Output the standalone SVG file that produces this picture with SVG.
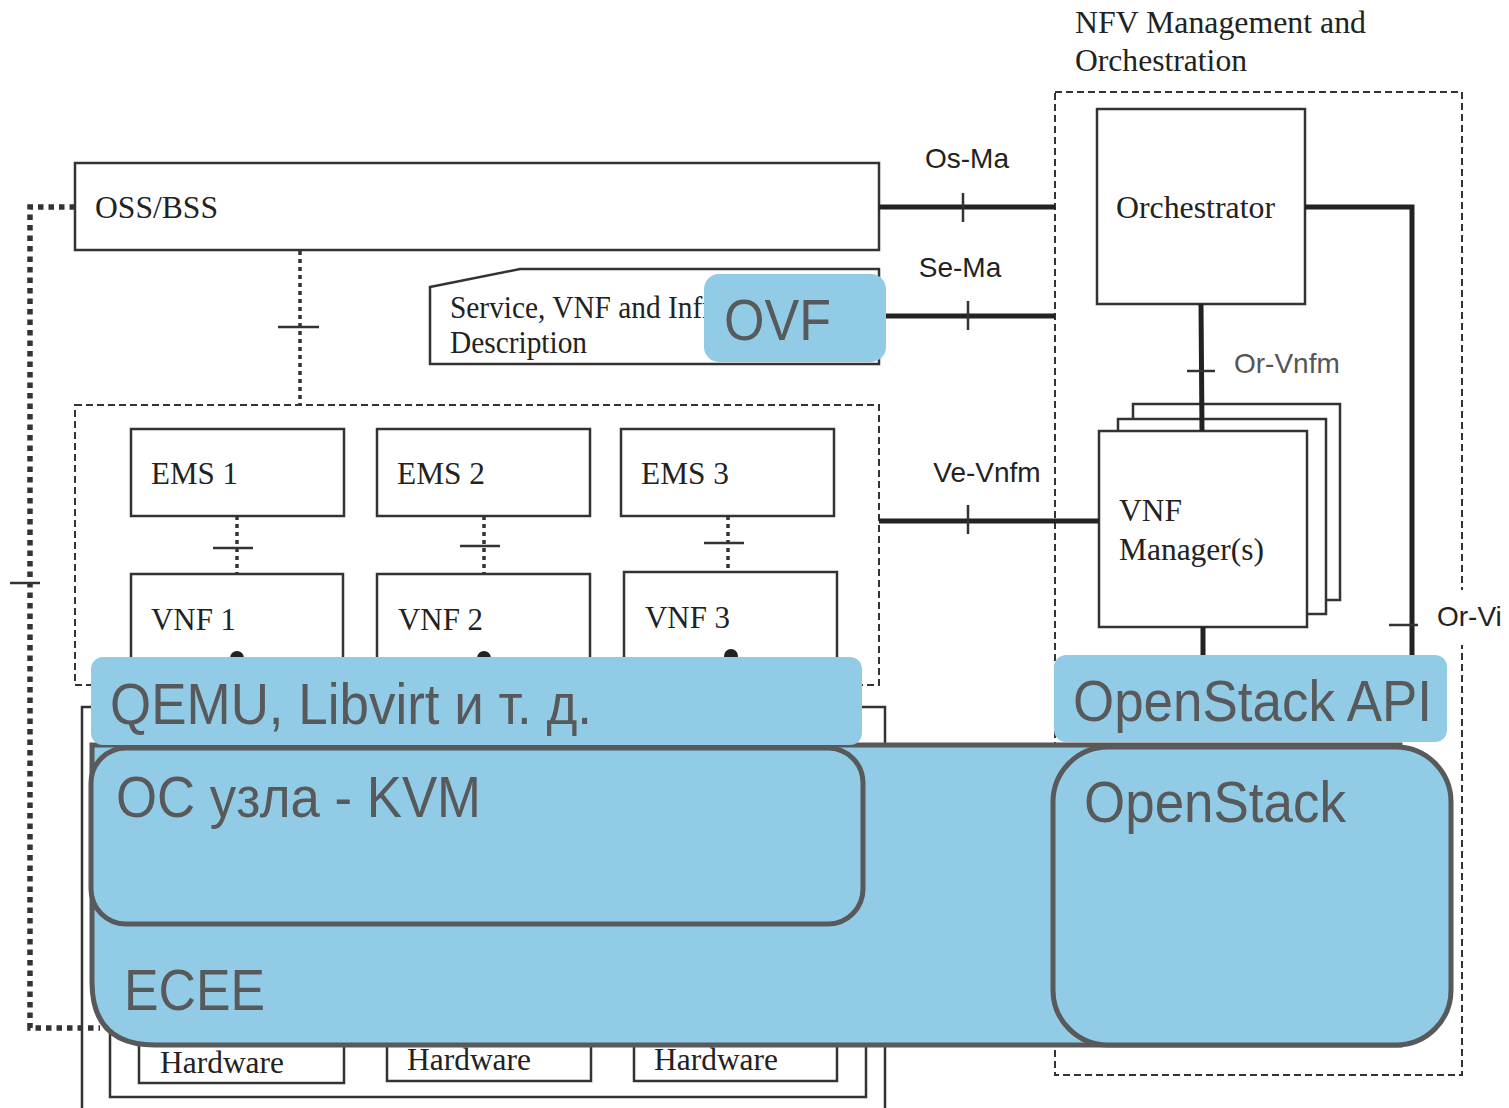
<svg xmlns="http://www.w3.org/2000/svg" width="1509" height="1108" viewBox="0 0 1509 1108">
<style>
.box{fill:#fff;stroke:#333;stroke-width:2.5}
.plain{fill:none;stroke:#333;stroke-width:2.5}
.dash{fill:none;stroke:#333;stroke-width:2;stroke-dasharray:7 4}
.thick{fill:none;stroke:#222;stroke-width:5}
.tick{fill:none;stroke:#333;stroke-width:2.5}
.dot{fill:none;stroke:#333;stroke-width:3.5;stroke-dasharray:4 4}
.bigdot{fill:none;stroke:#333;stroke-width:5.5;stroke-dasharray:5.5 5}
.serif{font-family:"Liberation Serif","Times New Roman",serif;font-size:31px;fill:#222}
.lab{font-family:"Liberation Sans",Arial,sans-serif;font-size:28px;fill:#222}
.lab2{font-family:"Liberation Sans",Arial,sans-serif;font-size:28px;fill:#555}
.blue{fill:#92cbe5}
.blueS{fill:#92cbe5;stroke:#58595b;stroke-width:5}
.big{font-family:"Liberation Sans",Arial,sans-serif;font-size:57px;fill:#58595b}
</style>

<g id="nfvi">
  <polyline class="plain" points="82,1108 82,707 885,707 885,1108"/>
  <rect class="plain" x="110" y="960" width="756" height="137"/>
</g>
<g id="hw1"><rect class="box" x="139" y="1030" width="205" height="53"/><text class="serif" x="160" y="1073" textLength="124" lengthAdjust="spacingAndGlyphs">Hardware</text></g>
<g id="hw2"><rect class="box" x="387" y="1030" width="204" height="51"/><text class="serif" x="407" y="1070" textLength="124" lengthAdjust="spacingAndGlyphs">Hardware</text></g>
<g id="hw3"><rect class="box" x="634" y="1030" width="203" height="51"/><text class="serif" x="654" y="1070" textLength="124" lengthAdjust="spacingAndGlyphs">Hardware</text></g>

<g id="vnf-domain"><rect class="dash" x="75" y="405" width="804" height="280"/></g>

<g id="ems1"><rect class="box" x="131" y="429" width="213" height="87"/><text class="serif" x="151" y="484" textLength="87" lengthAdjust="spacingAndGlyphs">EMS 1</text></g>
<g id="ems2"><rect class="box" x="377" y="429" width="213" height="87"/><text class="serif" x="397" y="484" textLength="88" lengthAdjust="spacingAndGlyphs">EMS 2</text></g>
<g id="ems3"><rect class="box" x="621" y="429" width="213" height="87"/><text class="serif" x="641" y="484" textLength="88" lengthAdjust="spacingAndGlyphs">EMS 3</text></g>

<g id="vnf1"><rect class="box" x="131" y="574" width="212" height="120"/><text class="serif" x="151" y="630" textLength="85" lengthAdjust="spacingAndGlyphs">VNF 1</text><circle cx="237" cy="658" r="7" fill="#222"/></g>
<g id="vnf2"><rect class="box" x="377" y="574" width="213" height="120"/><text class="serif" x="398" y="630" textLength="85" lengthAdjust="spacingAndGlyphs">VNF 2</text><circle cx="484" cy="658" r="7" fill="#222"/></g>
<g id="vnf3"><rect class="box" x="624" y="572" width="213" height="120"/><text class="serif" x="645" y="628" textLength="85" lengthAdjust="spacingAndGlyphs">VNF 3</text><circle cx="731" cy="656" r="7" fill="#222"/></g>

<g id="oss-bss"><rect class="box" x="75" y="163" width="804" height="87"/><text class="serif" x="95" y="218" textLength="123" lengthAdjust="spacingAndGlyphs">OSS/BSS</text></g>

<g id="service-description">
  <polygon class="box" points="430,287 520,269 879,269 879,364 430,364"/>
  <text class="serif" x="450" y="318" textLength="262" lengthAdjust="spacingAndGlyphs">Service, VNF and Infr</text>
  <text class="serif" x="450" y="353" textLength="137" lengthAdjust="spacingAndGlyphs">Description</text>
</g>

<g id="mano">
  <text class="serif" x="1075" y="33" textLength="291" lengthAdjust="spacingAndGlyphs">NFV Management and</text>
  <text class="serif" x="1075" y="71" textLength="172" lengthAdjust="spacingAndGlyphs">Orchestration</text>
  <rect class="dash" x="1055" y="92" width="407" height="983"/>
</g>

<g id="orchestrator"><rect class="box" x="1097" y="109" width="208" height="195"/><text class="serif" x="1116" y="218" textLength="159" lengthAdjust="spacingAndGlyphs">Orchestrator</text></g>

<g id="vnf-manager">
  <rect class="box" x="1133" y="404" width="207" height="196"/>
  <rect class="box" x="1118" y="419" width="208" height="195"/>
  <rect class="box" x="1099" y="431" width="208" height="196"/>
  <text class="serif" x="1119" y="521" textLength="63" lengthAdjust="spacingAndGlyphs">VNF</text>
  <text class="serif" x="1119" y="560" textLength="145" lengthAdjust="spacingAndGlyphs">Manager(s)</text>
</g>

<g id="connectors">
  <line class="thick" x1="879" y1="207" x2="1055" y2="207"/>
  <line class="tick" x1="963" y1="193" x2="963" y2="222"/>
  <text class="lab" x="967" y="168" text-anchor="middle">Os-Ma</text>
  <line class="thick" x1="880" y1="316" x2="1055" y2="316"/>
  <line class="tick" x1="968" y1="301" x2="968" y2="330"/>
  <text class="lab" x="960" y="277" text-anchor="middle">Se-Ma</text>
  <line class="thick" x1="879" y1="521" x2="1099" y2="521"/>
  <line class="tick" x1="968" y1="505" x2="968" y2="534"/>
  <text class="lab" x="987" y="482" text-anchor="middle">Ve-Vnfm</text>
  <line class="thick" x1="1201" y1="304" x2="1202" y2="431"/>
  <line class="tick" x1="1187" y1="371" x2="1215" y2="371"/>
  <text class="lab2" x="1234" y="373">Or-Vnfm</text>
  <polyline class="thick" points="1305,207 1412,207 1412,660"/>
  <line class="tick" x1="1389" y1="625" x2="1418" y2="625"/>
  <rect x="1430" y="590" width="79" height="55" fill="#fff"/>
  <text class="lab" x="1437" y="626">Or-Vi</text>
  <line class="thick" x1="1203" y1="627" x2="1203" y2="660"/>
  <line class="dot" x1="300" y1="251" x2="300" y2="405"/>
  <line class="tick" x1="278" y1="327" x2="319" y2="327" stroke-width="3"/>
  <line class="dot" x1="237" y1="516" x2="237" y2="574"/>
  <line class="tick" x1="213" y1="548" x2="253" y2="548" stroke-width="3"/>
  <line class="dot" x1="484" y1="516" x2="484" y2="574"/>
  <line class="tick" x1="460" y1="546" x2="500" y2="546" stroke-width="3"/>
  <line class="dot" x1="728" y1="516" x2="728" y2="572"/>
  <line class="tick" x1="704" y1="543" x2="744" y2="543" stroke-width="3"/>
  <polyline class="bigdot" points="75,207 30,207 30,1028 100,1028"/>
  <line class="tick" x1="10" y1="583" x2="40" y2="583"/>
</g>

<g id="ecee">
  <path class="blueS" d="M92,745 L1400,745 L1400,1045 L155,1045 Q92,1045 92,982 Z"/>
  <text class="big" x="124" y="1010" textLength="141" lengthAdjust="spacingAndGlyphs">ECEE</text>
</g>

<g id="host-os">
  <rect class="blueS" x="91" y="748" width="772" height="176" rx="35" ry="35"/>
  <text class="big" x="116" y="817" textLength="365" lengthAdjust="spacingAndGlyphs">ОС узла - KVM</text>
</g>

<g id="qemu">
  <rect class="blue" x="91" y="657" width="771" height="88" rx="12" ry="12"/>
  <text class="big" x="110" y="724" textLength="482" lengthAdjust="spacingAndGlyphs">QEMU, Libvirt и т. д.</text>
</g>

<g id="openstack">
  <rect class="blueS" x="1053" y="747" width="398" height="298" rx="55" ry="55"/>
  <text class="big" x="1084" y="822" textLength="262" lengthAdjust="spacingAndGlyphs">OpenStack</text>
</g>

<g id="openstack-api">
  <rect class="blue" x="1054" y="655" width="393" height="87" rx="12" ry="12"/>
  <text class="big" x="1073" y="721" textLength="359" lengthAdjust="spacingAndGlyphs">OpenStack API</text>
</g>

<g id="ovf">
  <rect class="blue" x="704" y="274" width="182" height="88" rx="15" ry="15"/>
  <text class="big" x="724" y="340" textLength="107" lengthAdjust="spacingAndGlyphs">OVF</text>
</g>
</svg>
